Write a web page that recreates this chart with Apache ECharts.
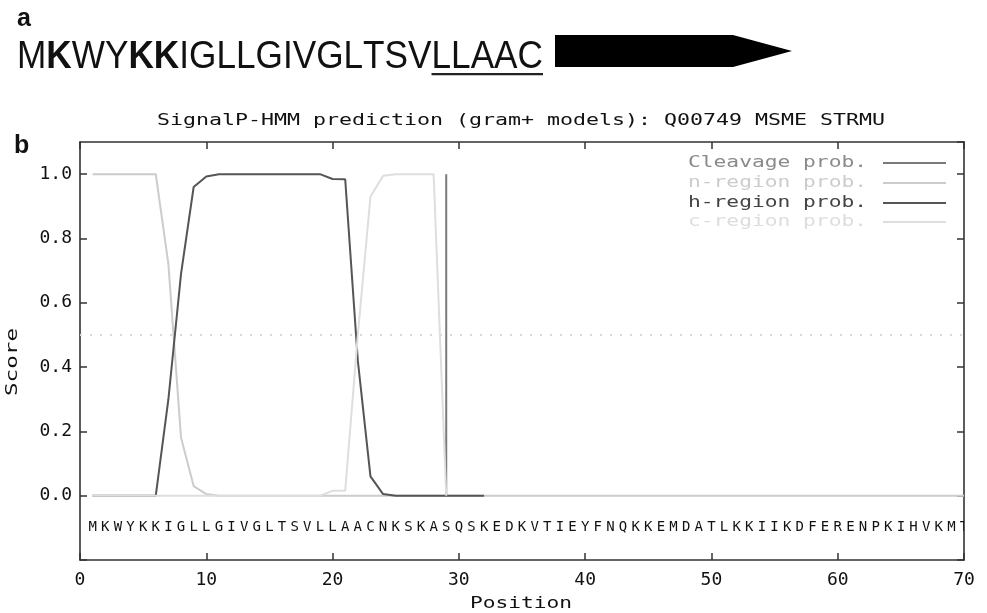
<!DOCTYPE html>
<html>
<head>
<meta charset="utf-8">
<script src="https://cdn.jsdelivr.net/npm/echarts@6/dist/echarts.min.js"></script>
<style>
html,body{margin:0;padding:0;background:#fff;}
#chart{width:987px;height:613px;}
</style>
</head>
<body>
<div id="chart"></div>
<script>
// ---------------- data ----------------
const panelA = "a";
const panelB = "b";
const topSeq = "MKWYKKIGLLGIVGLTSVLLAAC";
const topBold = [1, 4, 5];           // indices of bold residues
const topUnderline = [18, 23];       // underlined residue range [start, end)
const chartTitle = "SignalP-HMM prediction (gram+ models): Q00749 MSME STRMU";
const xName = "Position";
const yName = "Score";
const legendNames = ["Cleavage prob.", "n-region prob.", "h-region prob.", "c-region prob."];
const plotSeq = "MKWYKKIGLLGIVGLTSVLLAACNKSKASQSKEDKVTIEYFNQKKEMDATLKKIIKDFERENPKIHVKMT";
const cutoff = 0.5;

// positions 1..70
const positions = Array.from({length: 70}, (_, i) => i + 1);
const cleavage = [0,0,0,0,0,0,0,0,0,0, 0,0,0,0,0,0,0,0,0,0, 0,0,0,0,0,0,0,0,1.0,0,
                  0,0,0,0,0,0,0,0,0,0, 0,0,0,0,0,0,0,0,0,0, 0,0,0,0,0,0,0,0,0,0, 0,0,0,0,0,0,0,0,0,0];
const nRegion = [1,1,1,1,1,1,0.72,0.18,0.03,0.005, 0,0,0,0,0,0,0,0,0,0, 0,0,0,0,0,0,0,0,0,0,
                 0,0,0,0,0,0,0,0,0,0, 0,0,0,0,0,0,0,0,0,0, 0,0,0,0,0,0,0,0,0,0, 0,0,0,0,0,0,0,0,0,0];
const hRegion = [0,0,0,0,0,0,0.3,0.69,0.96,0.993, 1,1,1,1,1,1,1,1,1,0.985, 0.984,0.42,0.06,0.005,0,0,0,0,0,0,
                 0,0];
const cRegion = [0,0,0,0,0,0,0,0,0,0, 0,0,0,0,0,0,0,0,0,0.015, 0.015,0.5,0.93,0.995,1,1,1,1,0];

const pair = arr => arr.map((v, i) => [positions[i], v]);

// ---------------- styles ----------------
const MONO = '"DejaVu Sans Mono", "Liberation Mono", monospace';
const SANS = '"Liberation Sans", Arial, sans-serif';
const colors = {cleave: '#7a7a7a', n: '#cccccc', h: '#555555', c: '#dedede'};
const legendText = ['#8a8a8a', '#cccccc', '#444444', '#dddddd'];
const legendLine = [colors.cleave, colors.n, colors.h, colors.c];

const mctx = document.createElement('canvas').getContext('2d');
function measure(text, font) { mctx.font = font; return mctx.measureText(text).width; }

// ---------------- graphics (panel a, titles) ----------------
const graphics = [];
graphics.push({type: 'text', x: 17, y: 19, silent: true,
  style: {text: panelA, font: 'bold 25px ' + SANS, fill: '#111', align: 'left', verticalAlign: 'middle', textAlign: 'left', textVerticalAlign: 'middle'}});
graphics.push({type: 'text', x: 14, y: 146, silent: true,
  style: {text: panelB, font: 'bold 25px ' + SANS, fill: '#111', align: 'left', verticalAlign: 'middle', textAlign: 'left', textVerticalAlign: 'middle'}});

// sequence with bold residues and underline
(function () {
  const fs = 38;
  const fN = fs + 'px ' + SANS, fB = 'bold ' + fs + 'px ' + SANS;
  const children = [];
  let x = 0, ulStart = 0, ulEnd = 0;
  for (let i = 0; i < topSeq.length; i++) {
    const ch = topSeq[i];
    const f = topBold.includes(i) ? fB : fN;
    if (i === topUnderline[0]) ulStart = x;
    children.push({type: 'text', x: x, y: 0, silent: true,
      style: {text: ch, font: f, fill: '#111', align: 'left', verticalAlign: 'middle', textAlign: 'left', textVerticalAlign: 'middle'}});
    x += measure(ch, f);
    if (i === topUnderline[1] - 1) ulEnd = x;
  }
  const target = 526;
  const s = target / x;
  children.push({type: 'rect', silent: true, shape: {x: ulStart, y: 15, width: ulEnd - ulStart, height: 2.2}, style: {fill: '#222'}});
  graphics.push({type: 'group', x: 17, y: 58, scaleX: s, children: children});
})();

// arrow
graphics.push({type: 'polygon', silent: true,
  shape: {points: [[555, 35], [733, 35], [792, 51], [733, 67], [555, 67]]},
  style: {fill: '#000'}});

function fitText(text, x, y, width, color, align, rotation) {
  const font = '16px ' + MONO;
  const w = measure(text, font);
  const el = {type: 'text', x: x, y: y, scaleX: width / w, silent: true,
    style: {text: text, font: font, fill: color, align: align, verticalAlign: 'middle', textAlign: align, textVerticalAlign: 'middle'}};
  if (rotation) el.rotation = rotation;
  return el;
}
graphics.push(fitText(chartTitle, 521, 121, 728, '#111', 'center'));
graphics.push(fitText(xName, 521, 604, 102, '#111', 'center'));
graphics.push(fitText(yName, 13, 362, 68, '#111', 'center', Math.PI / 2));

// legend (drawn manually to match the gnuplot key)
const legendY = [163, 183, 203, 222];
legendNames.forEach((nm, i) => {
  graphics.push(fitText(nm, 688, legendY[i], 179, legendText[i], 'left'));
  graphics.push({type: 'line', silent: true, shape: {x1: 883, y1: legendY[i], x2: 946, y2: legendY[i]},
    style: {stroke: legendLine[i], lineWidth: 2}});
});

// ---------------- chart ----------------
const chart = echarts.init(document.getElementById('chart'), null, {renderer: 'canvas'});
const axisLine = {show: true, onZero: false, lineStyle: {color: '#333', width: 1.6}};
const axisTick = {show: true, inside: true, length: 7, lineStyle: {color: '#333', width: 1.5}};

const option = {
  backgroundColor: '#fff',
  animation: false,
  grid: {left: 80, top: 142, right: 23, bottom: 53, containLabel: false},
  xAxis: [
    {type: 'value', min: 0, max: 70, interval: 10, position: 'bottom',
     axisLine: axisLine, axisTick: axisTick, splitLine: {show: false},
     axisLabel: {color: '#111', fontFamily: MONO, fontSize: 18, margin: 11}},
    {type: 'value', min: 0, max: 70, interval: 10, position: 'top',
     axisLine: axisLine, axisTick: axisTick, splitLine: {show: false}, axisLabel: {show: false}}
  ],
  yAxis: [
    {type: 'value', min: -0.2, max: 1.1, interval: 0.2, position: 'left',
     axisLine: axisLine, axisTick: axisTick, splitLine: {show: false},
     axisLabel: {color: '#111', fontFamily: MONO, fontSize: 18, margin: 8,
       showMaxLabel: false,
       formatter: v => (v < -0.05 || v > 1.05) ? '' : v.toFixed(1)}},
    {type: 'value', min: -0.2, max: 1.1, interval: 0.2, position: 'right',
     axisLine: axisLine, axisTick: axisTick, splitLine: {show: false}, axisLabel: {show: false}}
  ],
  graphic: graphics,
  series: [
    {name: legendNames[0], type: 'bar', data: pair(cleavage), barWidth: 2,
     itemStyle: {color: colors.cleave}, z: 2, silent: true},
    {name: legendNames[1], type: 'line', data: pair(nRegion), showSymbol: false,
     lineStyle: {color: colors.n, width: 2}, z: 3, silent: true,
     markLine: {silent: true, symbol: 'none', label: {show: false},
       lineStyle: {color: '#d8d8d8', type: [2, 8], width: 2},
       data: [{yAxis: cutoff}]}},
    {name: legendNames[2], type: 'line', data: pair(hRegion), showSymbol: false,
     lineStyle: {color: colors.h, width: 2}, z: 4, silent: true},
    {name: legendNames[3], type: 'line', data: pair(cRegion), showSymbol: false,
     lineStyle: {color: colors.c, width: 2}, z: 5, silent: true},
    {name: 'sequence', type: 'custom', clip: true, silent: true, z: 6,
     data: positions.map(p => [p, -0.1]),
     renderItem: function (params, api) {
       const pt = api.coord([api.value(0), api.value(1)]);
       return {type: 'text', x: pt[0], y: pt[1],
         style: {text: plotSeq[params.dataIndex], font: '14px ' + MONO, fill: '#111',
           align: 'center', verticalAlign: 'middle', textAlign: 'center', textVerticalAlign: 'middle'}};
     }}
  ]
};
chart.setOption(option);
</script>
</body>
</html>
